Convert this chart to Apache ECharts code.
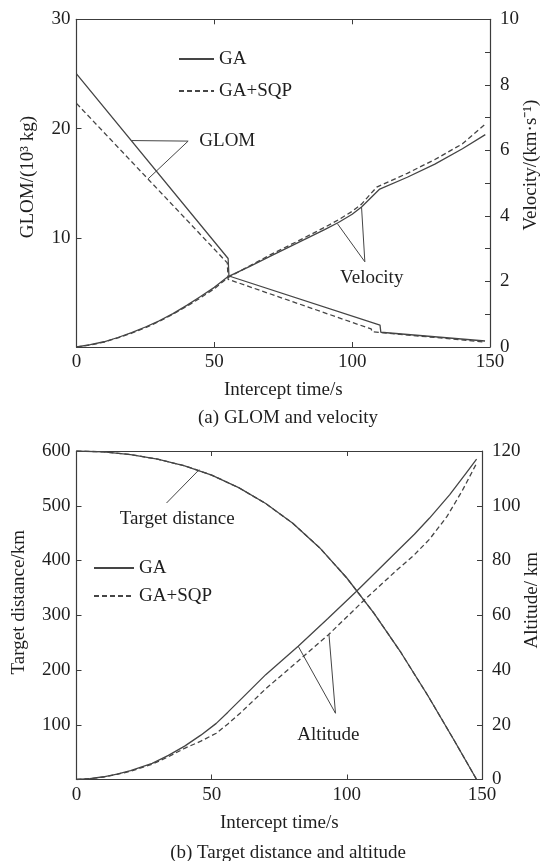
<!DOCTYPE html>
<html>
<head>
<meta charset="utf-8">
<script src="https://cdn.jsdelivr.net/npm/echarts@6/dist/echarts.min.js"></script>
<style>
html,body{margin:0;padding:0;background:#fff;}
#chart{width:550px;height:861px;}
</style>
</head>
<body>
<div id="chart"></div>
<script>
// ---- data (time in s) ----
const xTicks = [0, 50, 100, 150];
const seriesNames = ['GA', 'GA+SQP'];

// (a) GLOM, 10^3 kg
const glomGA = [[0,25.0],[55.0,8.1],[55.3,6.5],[110.1,2.0],[110.4,1.35],[148.2,0.55]];
const glomSQP = [[0,22.3],[54.7,7.7],[55.0,6.2],[106.9,1.65],[107.2,1.4],[148.2,0.45]];
// (a) Velocity, km/s
const velGA = [[0,0],[5,0.07],[10,0.16],[15,0.29],[20,0.44],[25,0.61],[30,0.8],[35,1.02],[40,1.27],[45,1.54],[50,1.82],[55,2.15],[62.9,2.46],[70,2.76],[80,3.17],[90,3.58],[95,3.8],[100,4.05],[103.4,4.27],[110,4.82],[120,5.18],[130,5.58],[140,6.05],[148.3,6.48]];
const velSQP = [[0,0],[5,0.06],[10,0.15],[15,0.28],[20,0.42],[25,0.59],[30,0.78],[35,1.0],[40,1.24],[45,1.5],[50,1.78],[55,2.12],[62.9,2.48],[70,2.8],[80,3.22],[90,3.65],[95,3.88],[100,4.14],[103.4,4.36],[108.9,4.88],[120,5.3],[130,5.72],[140,6.2],[148.3,6.8]];

// (b) Target distance, km
const distGA = [[0,600],[10,598.5],[20,593.5],[30,585],[40,573],[50,556],[60,533],[70,504],[80,468],[90,423],[100,368],[110,304],[120,232],[130,153],[140,69],[148,0]];
const distSQP = [[0,600],[10,598.5],[20,593.5],[30,585],[40,573],[50,556],[60,533],[70,504],[80,468],[90,423],[100,368],[110,304],[120,232],[130,153],[140,69],[148,0]];
// (b) Altitude, km
const altGA = [[0,0],[5,0.3],[10,1.0],[15,2.0],[20,3.2],[28,5.9],[34,8.8],[40,12.2],[46,16.2],[51.7,20.5],[56,24.6],[60.5,29.0],[70,38.3],[82,48.7],[93,58.8],[103.4,68.6],[111,76.0],[118.5,83.3],[125,89.6],[130.6,95.5],[138,104],[144.2,112],[148,117]];
const altSQP = [[0,0],[5,0.3],[10,0.9],[15,1.9],[20,3.0],[28,5.6],[34,8.3],[40,11.4],[46,14.0],[51.7,16.9],[56,20.3],[60.5,24.2],[70.2,33.3],[82,43.3],[93.1,52.8],[106.5,65.6],[118.5,76.5],[125,82.1],[130.6,87.8],[137,96],[142.7,105.5],[148,115.5]];

// annotation leaders (data coordinates)
const glomLeader = [[20,18.9],[40.5,18.85],[26,15.4]];
const velLeader = [[94.6,3.77],[104.6,2.6],[103.4,4.27]];
const distLeader = [[33.3,505],[45.4,566]];
const altLeader = [[82,48.7],[95.8,24.2],[93.4,52.9]];
const glomLabel = [54.7, 18.86, 'GLOM'];
const velLabel = [107.1, 2.11, 'Velocity'];
const distLabel = [37.25, 475.8, 'Target distance'];
const altLabel = [93.15, 16.3, 'Altitude'];

// ---- styles ----
const FONT = 'Liberation Serif';
const TXT = '#1e1e1e';
const LINE = '#454545';
const AX = '#3c3c3c';
const FS = 19;

function xAx(grid, pos, withLabel) {
  return {
    gridIndex: grid, type: 'value', min: 0, max: 150, interval: 50, position: pos,
    axisLine: {show: true, onZero: false, lineStyle: {color: AX, width: 1.2}},
    axisTick: {show: true, inside: true, length: 5, lineStyle: {color: AX}},
    axisLabel: {show: withLabel, margin: 6, color: TXT, fontFamily: FONT, fontSize: FS},
    splitLine: {show: false},
    name: withLabel ? 'Intercept time/s' : '',
    nameLocation: 'middle', nameGap: 34, nameMoveOverlap: false,
    nameTextStyle: {color: TXT, fontFamily: FONT, fontSize: FS}
  };
}
function yAx(grid, pos, min, max, interval, name, gap, pad, fmt, showMin) {
  return {
    gridIndex: grid, type: 'value', min: min, max: max, interval: interval, position: pos,
    axisLine: {show: true, onZero: false, lineStyle: {color: AX, width: 1.2}},
    axisTick: {show: true, inside: true, length: 5, lineStyle: {color: AX}},
    axisLabel: {show: true, margin: pos === 'left' ? 6 : 10, color: TXT, fontFamily: FONT, fontSize: FS,
      showMinLabel: showMin, formatter: fmt || undefined},
    splitLine: {show: false},
    name: name, nameLocation: 'middle', nameGap: gap, nameMoveOverlap: false,
    nameTextStyle: {color: TXT, fontFamily: FONT, fontSize: FS, padding: pad}
  };
}
function lineS(name, data, xi, yi, dashed) {
  return {
    name: name, type: 'line', data: data, xAxisIndex: xi, yAxisIndex: yi,
    symbol: 'none', showSymbol: false, smooth: false, silent: true,
    lineStyle: {color: LINE, width: 1.3, type: dashed ? [5, 3] : 'solid'},
    itemStyle: {color: LINE}
  };
}
function leaderS(data, xi, yi) {
  return {
    name: 'leader', type: 'line', data: data, xAxisIndex: xi, yAxisIndex: yi,
    symbol: 'none', silent: true, lineStyle: {color: LINE, width: 1}
  };
}
function textS(p, xi, yi) {
  return {
    name: 'note', type: 'scatter', data: [[p[0], p[1]]], xAxisIndex: xi, yAxisIndex: yi,
    symbolSize: 0, silent: true, itemStyle: {opacity: 1},
    label: {show: true, position: 'inside', formatter: p[2], color: TXT, opacity: 1,
      fontFamily: FONT, fontSize: FS}
  };
}

const legendText = {fontFamily: FONT, fontSize: FS, color: TXT, lineHeight: 20};
const chart = echarts.init(document.getElementById('chart'), null, {renderer: 'canvas'});
chart.setOption({
  animation: false,
  backgroundColor: '#fff',
  textStyle: {fontFamily: FONT},
  title: [
    {text: '(a) GLOM and velocity', left: 283, top: 404, textAlign: 'center',
     textStyle: {fontFamily: FONT, fontSize: FS, fontWeight: 'normal', color: TXT}},
    {text: '(b) Target distance and altitude', left: 283, top: 839, textAlign: 'center',
     textStyle: {fontFamily: FONT, fontSize: FS, fontWeight: 'normal', color: TXT}}
  ],
  legend: [
    {data: seriesNames, orient: 'vertical', left: 173, top: 44, itemWidth: 35, itemHeight: 14, itemGap: 12,
     itemStyle: {opacity: 0}, textStyle: legendText, selectedMode: false},
    {data: seriesNames, orient: 'vertical', left: 88, top: 553, itemWidth: 40, itemHeight: 14, itemGap: 8,
     itemStyle: {opacity: 0}, textStyle: legendText, selectedMode: false}
  ],
  grid: [
    {left: 76.5, width: 413.5, top: 19.3, height: 327.7},
    {left: 76.5, width: 413.5, top: 451, height: 328.5}
  ],
  xAxis: [xAx(0, 'bottom', true), xAx(0, 'top', false), xAx(1, 'bottom', true), xAx(1, 'top', false)],
  yAxis: [
    yAx(0, 'left', 0, 30, 10, 'GLOM/(10\u00B3 kg)', 39, [0, 0, 0, 12], null, false),
    yAx(0, 'right', 0, 10, 1, 'Velocity/(km\u00B7s\u207B\u00B9)', 32, [0, 0, 0, 36],
        function (v) { return v % 2 === 0 ? String(v) : ''; }, true),
    yAx(1, 'left', 0, 600, 100, 'Target distance/km', 48, [0, 0, 0, 26], null, false),
    yAx(1, 'right', 0, 120, 20, 'Altitude/ km', 41, [0, 0, 0, 30], null, true)
  ],
  series: [
    lineS('GA', glomGA, 0, 0, false),
    lineS('GA+SQP', glomSQP, 0, 0, true),
    lineS('GA', velGA, 0, 1, false),
    lineS('GA+SQP', velSQP, 0, 1, true),
    leaderS(glomLeader, 0, 0),
    leaderS(velLeader, 0, 1),
    textS(glomLabel, 0, 0),
    textS(velLabel, 0, 1),
    lineS('GA', distGA, 2, 2, false),
    lineS('GA+SQP', distSQP, 2, 2, true),
    lineS('GA', altGA, 2, 3, false),
    lineS('GA+SQP', altSQP, 2, 3, true),
    leaderS(distLeader, 2, 2),
    leaderS(altLeader, 2, 3),
    textS(distLabel, 2, 2),
    textS(altLabel, 2, 3)
  ]
});
</script>
</body>
</html>
